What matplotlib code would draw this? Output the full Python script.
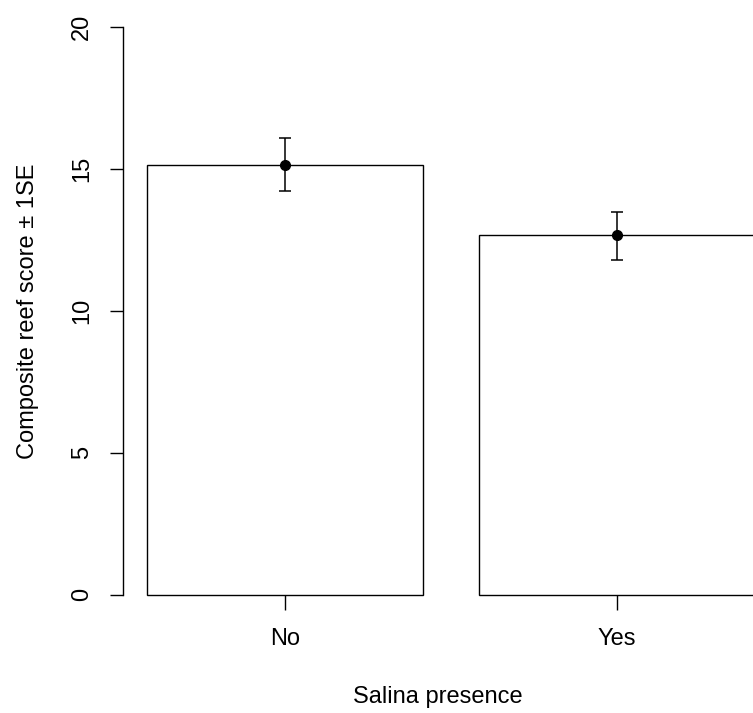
import matplotlib
matplotlib.use("Agg")
import matplotlib.pyplot as plt

plt.rcParams['font.family'] = ['Liberation Sans', 'DejaVu Sans']

groups = ["No", "Yes"]
means = [15.15, 12.66]
se_upper = [16.10, 13.48]
se_lower = [14.23, 11.79]

# R barplot style positions: width 1, space 0.2
pos = [0.7, 1.9]
err_lo = [m - l for m, l in zip(means, se_lower)]
err_hi = [u - m for m, u in zip(means, se_upper)]

fig = plt.figure(figsize=(7.53, 7.13), dpi=100)
ax = fig.add_axes([122.7 / 753, 118.5 / 713, (753 - 122.7) / 753, 567.2 / 713])

bars = ax.bar(pos, means, width=1.0, color="white", edgecolor="black", linewidth=1.0)
for b in bars:
    b.set_clip_on(False)
ax.errorbar(pos, means, yerr=[err_lo, err_hi], fmt="o", color="black",
            markersize=7, capsize=4.3, elinewidth=1.1, capthick=1.1)

ax.set_xlim(0.1132, 2.392)
ax.set_ylim(0, 20)

for s in ["top", "right", "bottom"]:
    ax.spines[s].set_visible(False)
ax.spines["left"].set_linewidth(1.0)

ax.set_yticks([0, 5, 10, 15, 20])
ax.set_yticklabels(["0", "5", "10", "15", "20"], rotation=90, va="center")
ax.set_xticks(pos)
ax.set_xticklabels(groups)
ax.tick_params(axis="y", length=9.7, width=1.0, pad=11.5, labelsize=17)
ax.tick_params(axis="x", length=10.5, width=1.0, pad=13.5, labelsize=17)

ax.set_xlabel("Salina presence", fontsize=17, labelpad=26)
ax.set_ylabel("Composite reef score ± 1SE", fontsize=17, labelpad=23)

fig.savefig("out.png", dpi=100)
